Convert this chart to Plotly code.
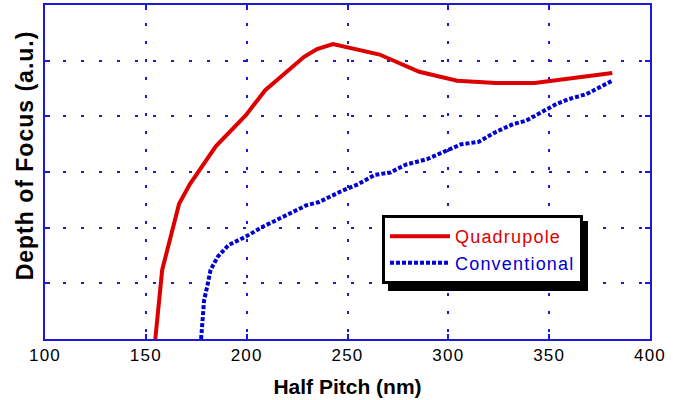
import plotly.graph_objects as go

# Quadrupole illumination
quad_x = [154.7, 158.1, 166.5, 171.8, 184.7, 199.6, 209.2, 218.8, 228.5, 234.9,
          242.8, 265.9, 285.6, 304.4, 323.6, 342.8, 381.3]
quad_y = [0.0, 1.24, 2.43, 2.78, 3.46, 4.02, 4.47, 4.78, 5.07, 5.21,
          5.30, 5.11, 4.80, 4.64, 4.60, 4.60, 4.78]

# Conventional illumination
conv_x = [177.4, 177.9, 178.9, 180.4, 182.1, 185.7, 191.1, 199.6, 208.2, 218.9,
          229.5, 235.9, 246.6, 255.2, 263.7, 271.2, 278.7, 289.4, 300.1, 306.5,
          315.0, 323.6, 332.1, 338.5, 345.0, 353.5, 359.9, 368.5, 374.9, 381.3]
conv_y = [0.0, 0.34, 0.70, 0.94, 1.24, 1.48, 1.69, 1.84, 2.02, 2.21,
          2.40, 2.46, 2.65, 2.78, 2.95, 2.99, 3.13, 3.23, 3.40, 3.50,
          3.54, 3.72, 3.86, 3.92, 4.05, 4.22, 4.31, 4.40, 4.52, 4.64]

x_ticks = [100, 150, 200, 250, 300, 350, 400]

RED = "#dd0000"
BLUE = "#0000d0"
AXBLUE = "#1a1ad8"
FONT = "Liberation Sans, Arial, Helvetica"

def spaced(text, ls="1.2px"):
    return f"<span style='letter-spacing:{ls}'>{text}</span>"

fig = go.Figure()
fig.add_trace(go.Scatter(
    x=quad_x, y=quad_y, mode="lines",
    name=f"<span style='color:{RED};letter-spacing:1.2px'>Quadrupole</span>",
    line=dict(color=RED, width=4),
))
fig.add_trace(go.Scatter(
    x=conv_x, y=conv_y, mode="lines",
    name=f"<span style='color:{BLUE};letter-spacing:1.2px'>Conventional</span>",
    line=dict(color=BLUE, width=4, dash="4px,2px"),
))

axis_common = dict(
    showline=True, linecolor=AXBLUE, linewidth=2, mirror="ticks",
    ticks="inside", ticklen=5, tickcolor=AXBLUE, tickwidth=2,
    showgrid=True, gridcolor=AXBLUE, gridwidth=1.5, griddash="3px,15px",
    zeroline=False, automargin=False,
)

fig.update_xaxes(
    range=[100, 400], tickvals=x_ticks,
    ticktext=[spaced(str(v)) for v in x_ticks],
    tickfont=dict(family=FONT, size=17, color="black"),
    title=dict(text="<b>Half Pitch (nm)</b>",
               font=dict(family=FONT, size=21, color="black")),
    **axis_common,
)
fig.update_yaxes(
    range=[0, 6], dtick=1, showticklabels=False,
    **axis_common,
)

# y-axis title (sits slightly above the axis centre in the original)
fig.add_annotation(
    text="<b><span style='letter-spacing:1px'>Depth of Focus (a.u.)</span></b>",
    textangle=-90,
    xref="paper", yref="paper", x=-0.033, y=0.55,
    xanchor="center", yanchor="middle", showarrow=False,
    font=dict(family=FONT, size=23, color="black"),
)

# drop shadow behind the legend box
fig.add_shape(
    type="rect", xref="paper", yref="paper",
    x0=0.567, x1=0.8975, y0=0.1437, y1=0.353,
    fillcolor="black", line=dict(width=0), layer="above",
)

fig.update_layout(
    width=674, height=400,
    margin=dict(l=45, r=24, t=5, b=61),
    paper_bgcolor="white", plot_bgcolor="white",
    showlegend=True,
    legend=dict(
        x=0.557, y=0.371, xanchor="left", yanchor="top",
        bgcolor="white", bordercolor="black", borderwidth=3,
        font=dict(family=FONT, size=18),
        itemwidth=60,
    ),
)

fig.write_html("out.html", config={"displayModeBar": False},
               post_script="document.body.style.margin='0';")
